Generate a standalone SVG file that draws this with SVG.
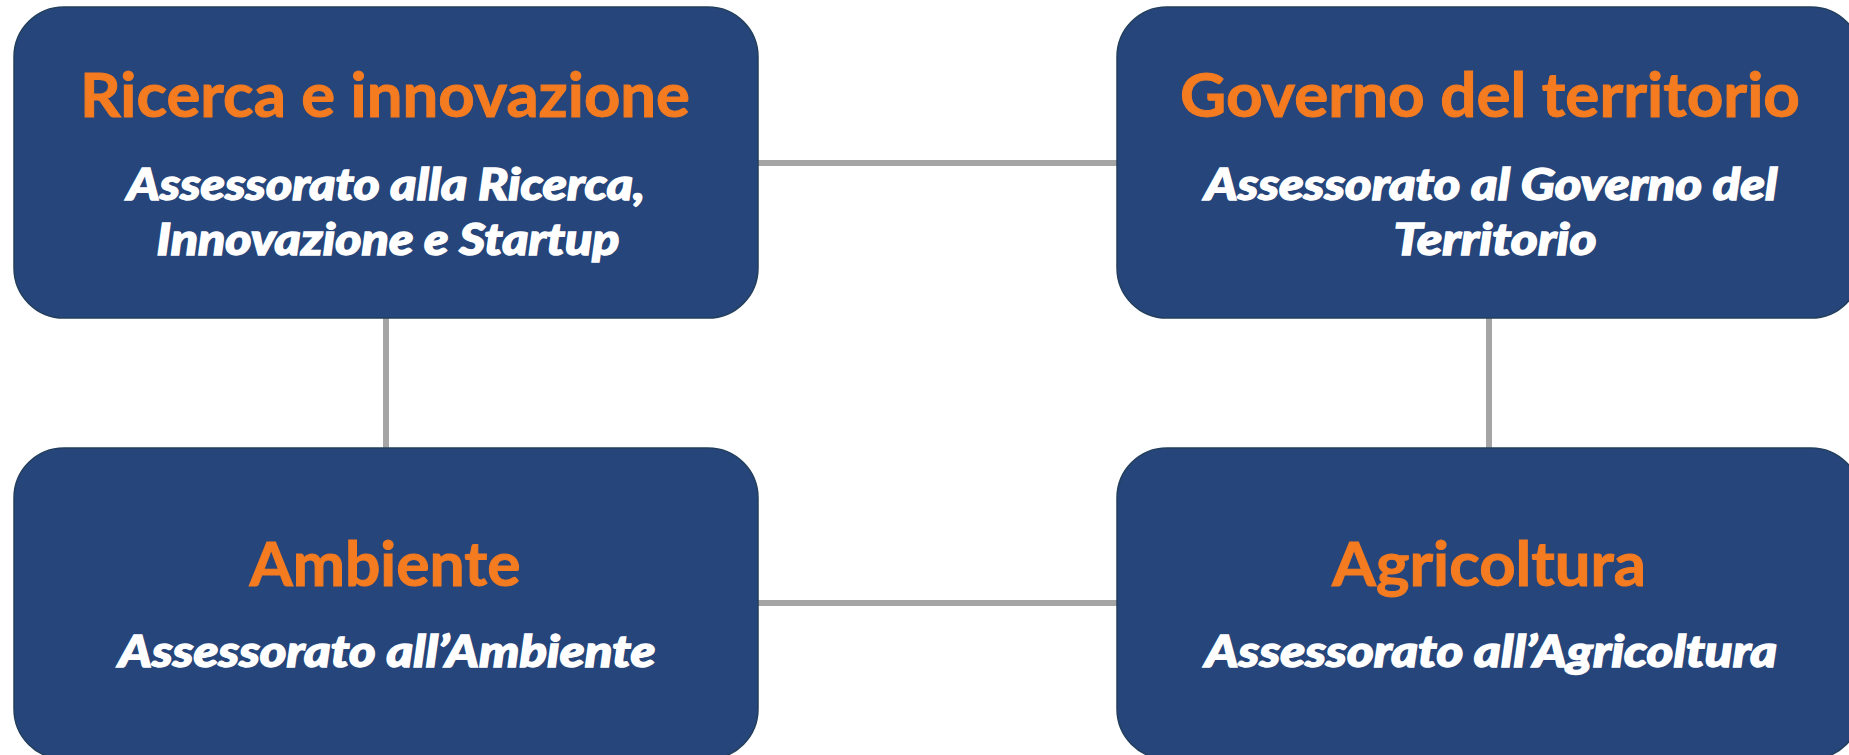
<svg xmlns="http://www.w3.org/2000/svg" width="1849" height="755" viewBox="0 0 1849 755">
  <defs>
    <style>
      .box { fill: #26457A; stroke: #233F5E; stroke-width: 1.5; }
      .conn { stroke: #A5A5A5; stroke-width: 6; fill: none; }
      .title { font-family: "Lato", "Noto Sans", sans-serif; font-weight: 700; font-size: 61px; fill: #F47B20; stroke: #F47B20; stroke-width: 1; text-anchor: middle; }
      .sub { font-family: "Lato", "Noto Sans", sans-serif; font-weight: 900; font-style: italic; font-size: 44px; fill: #FFFFFF; stroke: #FFFFFF; stroke-width: 1.4; text-anchor: middle; }
    </style>
  </defs>
  <rect width="1849" height="755" fill="#FFFFFF"/>
  <g id="connectors">
    <line class="conn" x1="758" y1="163" x2="1117" y2="163"/>
    <line class="conn" x1="386" y1="318" x2="386" y2="448"/>
    <line class="conn" x1="1489" y1="318" x2="1489" y2="448"/>
    <line class="conn" x1="758" y1="603" x2="1117" y2="603"/>
  </g>
  <g id="node-ricerca">
    <rect class="box" x="14" y="7" width="744" height="311" rx="50" ry="50"/>
    <text class="title" x="385" y="117" textLength="610" lengthAdjust="spacingAndGlyphs">Ricerca e innovazione</text>
    <text class="sub" x="386" y="200" textLength="518" lengthAdjust="spacingAndGlyphs">Assessorato alla Ricerca,</text>
    <text class="sub" x="388" y="255" textLength="463" lengthAdjust="spacingAndGlyphs">Innovazione e Startup</text>
  </g>
  <g id="node-governo">
    <rect class="box" x="1117" y="7" width="744" height="311" rx="50" ry="50"/>
    <text class="title" x="1490" y="117" textLength="620" lengthAdjust="spacingAndGlyphs">Governo del territorio</text>
    <text class="sub" x="1491" y="200" textLength="573" lengthAdjust="spacingAndGlyphs">Assessorato al Governo del</text>
    <text class="sub" x="1495" y="255" textLength="203" lengthAdjust="spacingAndGlyphs">Territorio</text>
  </g>
  <g id="node-ambiente">
    <rect class="box" x="14" y="448" width="744" height="311" rx="50" ry="50"/>
    <text class="title" x="385" y="586" textLength="271" lengthAdjust="spacingAndGlyphs">Ambiente</text>
    <text class="sub" x="387" y="667" textLength="537" lengthAdjust="spacingAndGlyphs">Assessorato all’Ambiente</text>
  </g>
  <g id="node-agricoltura">
    <rect class="box" x="1117" y="448" width="744" height="311" rx="50" ry="50"/>
    <text class="title" x="1489" y="586" textLength="314" lengthAdjust="spacingAndGlyphs">Agricoltura</text>
    <text class="sub" x="1491" y="667" textLength="572" lengthAdjust="spacingAndGlyphs">Assessorato all’Agricoltura</text>
  </g>
</svg>
